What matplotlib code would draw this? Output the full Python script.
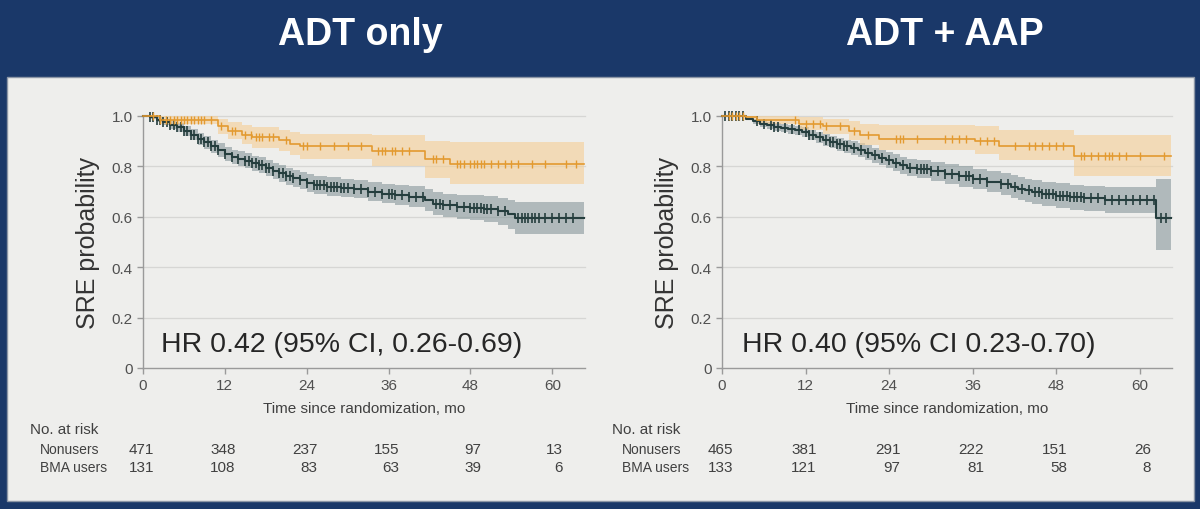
import numpy as np
import matplotlib
matplotlib.use("Agg")
import matplotlib.pyplot as plt
from matplotlib import font_manager
from matplotlib.patches import Rectangle
from matplotlib.transforms import blended_transform_factory

# ---------------- data ----------------
titles = ["ADT only", "ADT + AAP"]
hr_texts = ["HR 0.42 (95% CI, 0.26-0.69)", "HR 0.40 (95% CI 0.23-0.70)"]
x_ticks = [0, 12, 24, 36, 48, 60]
y_ticks = [0, 0.2, 0.4, 0.6, 0.8, 1.0]
y_ticklabels = ["0", "0.2", "0.4", "0.6", "0.8", "1.0"]
row_names = ["Nonusers", "BMA users"]
risk_left_nonusers = [471, 348, 237, 155, 97, 13]
risk_left_bma = [131, 108, 83, 63, 39, 6]
risk_right_nonusers = [465, 381, 291, 222, 151, 26]
risk_right_bma = [133, 121, 97, 81, 58, 8]

# ADT only - BMA users (orange)
l_bma_t = [0, 2.5, 11.0, 12.5, 14.5, 16.0, 20.0, 21.5, 23.0, 33.5, 41.3, 45.0, 64.6]
l_bma_s = [1.0, 0.985, 0.96, 0.94, 0.925, 0.915, 0.905, 0.89, 0.88, 0.86, 0.83, 0.81, 0.81]
l_bma_lo = [1.0, 0.97, 0.93, 0.91, 0.89, 0.875, 0.86, 0.845, 0.83, 0.80, 0.755, 0.73, 0.73]
l_bma_hi = [1.0, 1.0, 0.99, 0.975, 0.965, 0.955, 0.945, 0.935, 0.93, 0.925, 0.90, 0.895, 0.895]
l_bma_cens = [1.5, 2.5, 3.3, 4, 4.5, 5, 5.5, 6, 6.5, 7, 7.5, 8, 8.5, 9, 10, 11.5, 13, 13.5,
              15, 15.8, 16.5, 17, 17.5, 18.5, 19, 21, 23.5, 24, 26, 28, 30, 32, 34.5, 35,
              35.5, 36.5, 37, 38, 39, 42.5, 43, 44, 46, 46.5, 47, 48, 48.5, 49, 49.5, 50,
              51, 52, 53, 54, 55, 57, 59, 62, 63.5]

# ADT only - Nonusers (dark)
l_non_t = [0, 1, 2, 3, 4, 5, 6, 7, 8, 9, 10, 11, 12, 13, 14, 15, 16, 17, 18, 19, 20, 21,
           22, 23, 24, 25, 27, 29, 31, 33, 35, 37, 39, 41.4, 42.5, 44, 46, 48, 50, 52,
           53.5, 54.5, 64.6]
l_non_s = [1.0, 0.995, 0.985, 0.975, 0.965, 0.955, 0.94, 0.925, 0.91, 0.895, 0.88, 0.865,
           0.85, 0.838, 0.83, 0.822, 0.812, 0.805, 0.795, 0.783, 0.772, 0.76, 0.752, 0.745,
           0.735, 0.727, 0.72, 0.715, 0.71, 0.70, 0.692, 0.685, 0.68, 0.668, 0.652, 0.646,
           0.64, 0.636, 0.63, 0.622, 0.61, 0.595, 0.595]
l_non_hw = [0.0, 0.005, 0.01, 0.012, 0.015, 0.017, 0.02, 0.022, 0.024, 0.025, 0.026, 0.027,
            0.028, 0.029, 0.03, 0.03, 0.031, 0.031, 0.032, 0.032, 0.033, 0.033, 0.034, 0.034,
            0.035, 0.035, 0.036, 0.036, 0.037, 0.038, 0.039, 0.04, 0.041, 0.043, 0.045, 0.046,
            0.048, 0.05, 0.052, 0.054, 0.058, 0.062, 0.062]
l_non_cens = [1, 1.5, 2, 2.5, 3, 3.5, 4, 4.5, 5, 5.5, 6, 6.5, 7, 7.5, 8, 8.5, 9, 9.5, 10,
              10.5, 11, 12, 13, 14, 15, 15.5, 16, 16.5, 17, 17.5, 18, 18.5, 19, 20, 20.5,
              21, 21.5, 22, 23, 24, 25, 25.5, 26, 26.5, 27, 27.5, 28, 28.5, 29, 29.5, 30,
              31, 32, 33, 34, 35, 36, 36.5, 37, 38, 39, 40, 41, 43, 43.5, 44, 45, 46, 47,
              48, 48.5, 49, 49.5, 50, 50.5, 51, 52, 53, 55, 55.5, 56, 56.5, 57, 57.5, 58,
              59, 60, 61, 62, 63]

# ADT + AAP - BMA users (orange)
r_bma_t = [0, 3.5, 5.0, 11.0, 14.5, 18.2, 19.8, 22.5, 36.3, 39.8, 50.5, 64.5]
r_bma_s = [1.0, 0.995, 0.985, 0.97, 0.96, 0.94, 0.925, 0.91, 0.90, 0.88, 0.84, 0.84]
r_bma_lo = [1.0, 0.985, 0.97, 0.945, 0.93, 0.905, 0.885, 0.865, 0.85, 0.825, 0.76, 0.76]
r_bma_hi = [1.0, 1.0, 1.0, 0.995, 0.99, 0.98, 0.97, 0.965, 0.96, 0.945, 0.925, 0.925]
r_bma_cens = [1, 1.5, 2, 2.5, 3, 10.5, 12, 13, 14, 15, 17, 19, 21, 25, 25.5, 26, 28, 32,
              33, 34, 35, 37, 38, 39, 42, 44, 45, 46, 47, 48, 49, 51.5, 52, 53, 54, 55,
              55.5, 56, 57, 58, 60, 63.5]

# ADT + AAP - Nonusers (dark)
r_non_t = [0, 3.5, 4.5, 5.5, 6.5, 7.5, 8.5, 9.5, 10.5, 11.5, 12.5, 13.5, 14.5, 15.5, 16.5,
           17.5, 18.5, 19.5, 20.5, 21.5, 22.5, 23.5, 24.5, 25.5, 26.5, 28, 30, 32, 34, 36,
           38, 40, 41.5, 42.5, 43.5, 44.5, 46, 48, 50, 52, 55, 62.3, 64.5]
r_non_s = [1.0, 0.99, 0.98, 0.97, 0.963, 0.958, 0.953, 0.948, 0.943, 0.935, 0.925, 0.915,
           0.905, 0.897, 0.888, 0.88, 0.872, 0.864, 0.855, 0.845, 0.835, 0.825, 0.815,
           0.805, 0.795, 0.79, 0.78, 0.77, 0.76, 0.75, 0.74, 0.73, 0.72, 0.712, 0.705,
           0.698, 0.69, 0.684, 0.678, 0.673, 0.668, 0.595, 0.595]
r_non_lo = [1.0, 0.985, 0.97, 0.957, 0.948, 0.942, 0.936, 0.93, 0.924, 0.915, 0.904,
            0.893, 0.882, 0.873, 0.863, 0.854, 0.845, 0.836, 0.826, 0.815, 0.804, 0.793,
            0.782, 0.771, 0.76, 0.754, 0.743, 0.732, 0.72, 0.709, 0.698, 0.687, 0.676,
            0.667, 0.659, 0.651, 0.642, 0.635, 0.628, 0.622, 0.615, 0.47, 0.47]
r_non_hi = [1.0, 0.995, 0.99, 0.983, 0.978, 0.974, 0.97, 0.966, 0.962, 0.955, 0.946, 0.937,
            0.928, 0.921, 0.913, 0.906, 0.899, 0.892, 0.884, 0.875, 0.866, 0.857, 0.848,
            0.839, 0.83, 0.826, 0.817, 0.808, 0.8, 0.791, 0.782, 0.773, 0.764, 0.757, 0.751,
            0.745, 0.738, 0.733, 0.728, 0.724, 0.72, 0.75, 0.75]
r_non_cens = [0.5, 1, 1.5, 2, 2.5, 3, 5, 6, 7, 7.5, 8, 9, 10, 11, 12, 12.5, 13, 14, 15,
              15.5, 16, 16.5, 17, 17.5, 18, 19, 20, 21, 22, 23, 24, 25, 26, 27, 28, 28.5,
              29, 29.5, 30, 31, 32, 33, 34, 35, 35.5, 36, 37, 38, 40, 41, 42, 43, 44, 45,
              45.5, 46, 46.5, 47, 47.5, 48, 48.5, 49, 49.5, 50, 50.5, 51, 51.5, 52, 53,
              54, 55, 56, 57, 58, 59, 60, 61, 62, 63, 63.7]

# ---------------- style ----------------
BG = "#1A3869"
PANEL = "#EEEEEC"
ORANGE = "#E39A30"
ORANGE_BAND = "#F5CE95"
DARK = "#253E3E"
DARK_BAND = "#7D8F93"

avail = {f.name for f in font_manager.fontManager.ttflist}
narrow = "Liberation Sans Narrow" if "Liberation Sans Narrow" in avail else "Liberation Sans"
sans = "Liberation Sans" if "Liberation Sans" in avail else "DejaVu Sans"

fig = plt.figure(figsize=(12, 5.1), dpi=100, facecolor=BG)
panel = Rectangle((7 / 1200, 1 - 502 / 510), 1187 / 1200, 424 / 510,
                  transform=fig.transFigure, facecolor=PANEL,
                  edgecolor="#8C96A6", linewidth=1.0, zorder=-10)
fig.patches.append(panel)

title_x = [360 / 1200, 945 / 1200]
for tx, tt in zip(title_x, titles):
    fig.text(tx, 1 - 35 / 510, tt, color="white", fontsize=27, fontweight="bold",
             family=sans, ha="center", va="center")

ax_pos = [[143 / 1200, 1 - 369 / 510, 442 / 1200, 252 / 510],
          [722 / 1200, 1 - 369 / 510, 450 / 1200, 252 / 510]]
xmax = [64.8, 64.6]

def step_val(t, s, c):
    t = np.asarray(t); s = np.asarray(s)
    idx = np.searchsorted(t, c, side="right") - 1
    return s[idx]

panels = [
    dict(non=(l_non_t, l_non_s, list(np.array(l_non_s) - np.array(l_non_hw)),
              list(np.array(l_non_s) + np.array(l_non_hw)), l_non_cens),
         bma=(l_bma_t, l_bma_s, l_bma_lo, l_bma_hi, l_bma_cens),
         risk=(risk_left_nonusers, risk_left_bma)),
    dict(non=(r_non_t, r_non_s, r_non_lo, r_non_hi, r_non_cens),
         bma=(r_bma_t, r_bma_s, r_bma_lo, r_bma_hi, r_bma_cens),
         risk=(risk_right_nonusers, risk_right_bma)),
]

for i, p in enumerate(panels):
    ax = fig.add_axes(ax_pos[i], zorder=2)
    ax.set_facecolor("none")
    ax.patch.set_visible(False)
    ax.set_xlim(0, xmax[i])
    ax.set_ylim(0, 1.0)
    for yv in y_ticks[1:]:
        ax.axhline(yv, color="#D6D6D4", lw=0.9, zorder=0.5, clip_on=False)

    # bands
    t, s, lo, hi, cens = p["non"]
    ax.fill_between(t, lo, hi, step="post", color=DARK_BAND, alpha=0.55, lw=0, zorder=1)
    t2, s2, lo2, hi2, cens2 = p["bma"]
    ax.fill_between(t2, lo2, hi2, step="post", color=ORANGE_BAND, alpha=0.6, lw=0, zorder=1.1)

    ax.step(t, s, where="post", color=DARK, lw=1.5, zorder=3, clip_on=False)
    ax.plot(cens, step_val(t, s, cens), ls="none", marker="|", ms=6.5, mew=1.2,
            color=DARK, zorder=3.1, clip_on=False)
    ax.step(t2, s2, where="post", color=ORANGE, lw=1.2, zorder=4, clip_on=False)
    ax.plot(cens2, step_val(t2, s2, cens2), ls="none", marker="|", ms=6, mew=1.0,
            color=ORANGE, zorder=4.1, clip_on=False)

    for sp in ["top", "right"]:
        ax.spines[sp].set_visible(False)
    for sp in ["left", "bottom"]:
        ax.spines[sp].set_color("#9A9A9A")
        ax.spines[sp].set_linewidth(1.0)
    ax.set_xticks(x_ticks)
    ax.set_xticklabels([str(v) for v in x_ticks])
    ax.set_yticks(y_ticks)
    ax.set_yticklabels(y_ticklabels)
    ax.tick_params(colors="#9A9A9A", labelcolor="#505050", length=4, width=1.0,
                   labelsize=11)
    for lab in ax.get_xticklabels() + ax.get_yticklabels():
        lab.set_family(narrow)
    ax.set_ylabel("SRE probability", fontsize=18, color="#333333", family=sans,
                  labelpad=8)
    ax.set_xlabel("Time since randomization, mo", fontsize=11, color="#404040",
                  family=narrow, labelpad=6)

    ax.text(2.6 if i == 0 else 2.9, 0.095, hr_texts[i], fontsize=20.5, color="#262626",
            family=sans, ha="left", va="center")

    # risk table
    tr = blended_transform_factory(ax.transData, fig.transFigure)
    x_label0 = (30 if i == 0 else 612) / 1200
    fig.text(x_label0, 1 - 430 / 510, "No. at risk", fontsize=11, color="#404040",
             family=narrow, ha="left", va="center")
    for r, (name, vals) in enumerate(zip(row_names, p["risk"])):
        yy = 1 - (450 + 18 * r) / 510
        fig.text(x_label0 + 10 / 1200, yy, name, fontsize=10, color="#404040",
                 family=narrow, ha="left", va="center")
        for xv, v in zip(x_ticks, vals):
            ax.text(xv + 1.6, yy, str(v), transform=tr, fontsize=11, color="#404040",
                    family=narrow, ha="right", va="center")

fig.savefig("out.png", dpi=100, facecolor=BG)
